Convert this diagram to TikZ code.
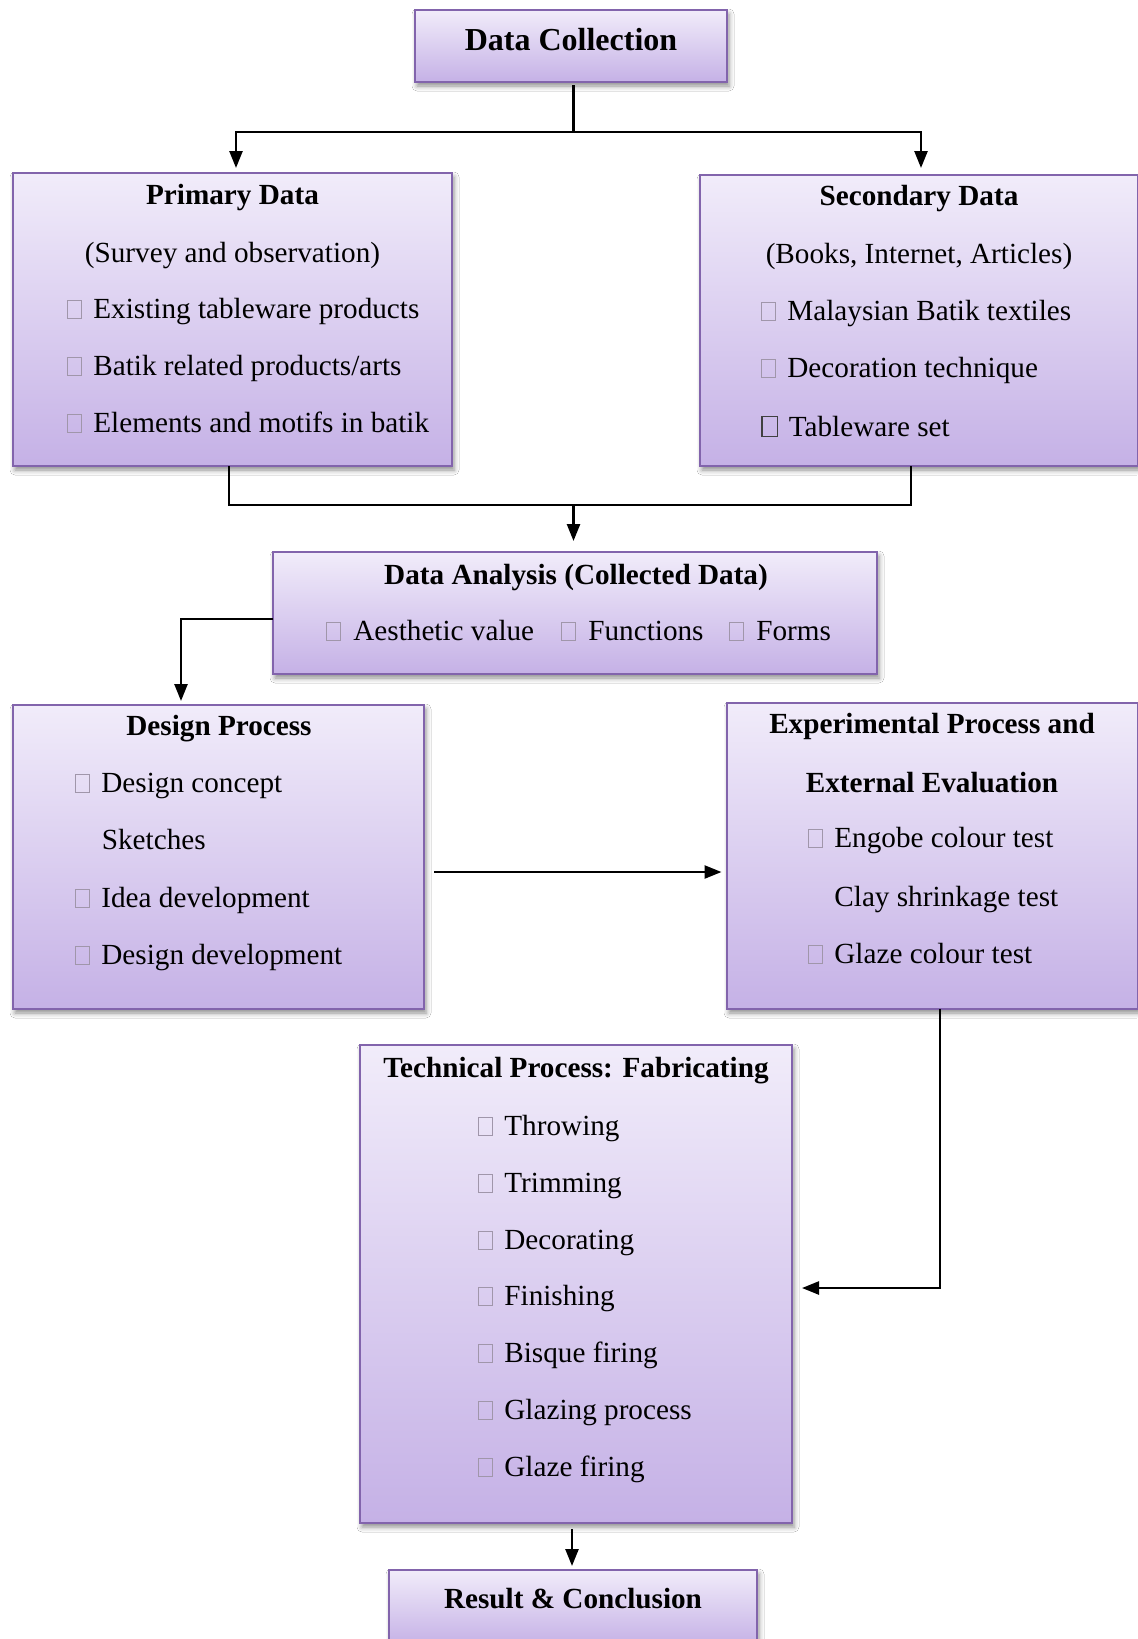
\documentclass[tikz,border=0pt]{standalone}
\usepackage{fontspec}
\setmainfont{Liberation Serif}
\usetikzlibrary{arrows.meta,shadows.blur}
\definecolor{boxtop}{RGB}{241,236,250}
\definecolor{boxbot}{RGB}{197,177,230}
\definecolor{boxline}{RGB}{130,100,172}
\definecolor{cbcol}{RGB}{160,150,170}
\newcommand\cbx{\textcolor{cbcol}{\setlength\fboxsep{0pt}\setlength\fboxrule{0.5pt}\fbox{\rule{0pt}{8.5pt}\hspace{6.5pt}}}}
\newcommand\cbd{\textcolor{black!75}{\setlength\fboxsep{0pt}\setlength\fboxrule{0.6pt}\fbox{\rule{0pt}{9.5pt}\hspace{7pt}}}}
\tikzset{
  box/.style={draw=boxline, line width=1pt, top color=boxtop, bottom color=boxbot,
    inner sep=0pt, outer sep=0pt,
    blur shadow={shadow xshift=1pt, shadow yshift=-2pt, shadow blur radius=2.5pt, shadow opacity=45}},
  ttl/.style={anchor=base, inner sep=0pt, font=\fontsize{14.6pt}{17pt}\selectfont\bfseries},
  sub/.style={anchor=base, inner sep=0pt, font=\fontsize{14.6pt}{17pt}\selectfont},
  item/.style={anchor=base west, inner sep=0pt, font=\fontsize{14.6pt}{17pt}\selectfont},
  line/.style={draw=black, line width=1.25pt},
  arr/.style={line, -{Triangle[length=8.5pt,width=6.5pt]}}
}
\begin{document}
\begin{tikzpicture}[x=0.5pt,y=-0.5pt]
\fill[white] (0,0) rectangle (1137,1639);
\useasboundingbox (0,0) rectangle (1137,1639);

% boxes
\node[box, minimum width=156pt, minimum height=36pt] (dc) at (571,46) {};
\node[box, minimum width=219.5pt, minimum height=146.5pt] (pd) at (232.5,319.5) {};
\node[box, minimum width=219pt, minimum height=145.5pt] (sd) at (919,320.5) {};
\node[box, minimum width=302pt, minimum height=61pt] (da) at (575,613) {};
\node[box, minimum width=205.5pt, minimum height=152pt] (dp) at (218.5,857) {};
\node[box, minimum width=205.5pt, minimum height=153pt] (ex) at (932.5,856) {};
\node[box, minimum width=216pt, minimum height=239pt] (tp) at (576,1284) {};
\node[box, minimum width=184pt, minimum height=37.5pt] (rc) at (573,1607.5) {};

% texts
\node[anchor=base, inner sep=0pt, font=\fontsize{16pt}{19pt}\selectfont\bfseries] (dct) at (571,50) {Data Collection};

\node[ttl] (pdt) at (232.5,204) {Primary Data};
\node[sub] (pds) at (232.5,262) {(Survey and observation)};
\node[item] (pd1) at (67,318) {\cbx\hspace{5.5pt}Existing tableware products};
\node[item] (pd2) at (67,375) {\cbx\hspace{5.5pt}Batik related products/arts};
\node[item] (pd3) at (67,432) {\cbx\hspace{5.5pt}Elements and motifs in batik};

\node[ttl] (sdt) at (919,205) {Secondary Data};
\node[sub] (sds) at (919,263) {(Books, Internet, Articles)};
\node[item] (sd1) at (761,320) {\cbx\hspace{5.5pt}Malaysian Batik textiles};
\node[item] (sd2) at (761,377) {\cbx\hspace{5.5pt}Decoration technique};
\node[item] (sd3) at (761,436) {\cbd\hspace{5.5pt}Tableware set};

\node[ttl] (dat) at (576,584) {Data Analysis (Collected Data)};
\node[item] (da1) at (326,640) {\cbx\hspace{6pt}Aesthetic value};
\node[item] (da2) at (561,640) {\cbx\hspace{6pt}Functions};
\node[item] (da3) at (729,640) {\cbx\hspace{6pt}Forms};

\node[ttl] (dpt) at (219,735) {Design Process};
\node[item] (dp1) at (75,792) {\cbx\hspace{5.5pt}Design concept};
\node[item] (dp2) at (101.5,849) {Sketches};
\node[item] (dp3) at (75,907) {\cbx\hspace{5.5pt}Idea development};
\node[item] (dp4) at (75,964) {\cbx\hspace{5.5pt}Design development};

\node[ttl] (ext1) at (932,733) {Experimental Process and};
\node[ttl] (ext2) at (932,792) {External Evaluation};
\node[item] (ex1) at (808,847) {\cbx\hspace{5.5pt}Engobe colour test};
\node[item] (ex2) at (834,906) {Clay shrinkage test};
\node[item] (ex3) at (808,963) {\cbx\hspace{5.5pt}Glaze colour test};

\node[ttl] (tpt) at (576,1077) {Technical Process: Fabricating};
\node[item] (tp1) at (478,1135) {\cbx\hspace{5.5pt}Throwing};
\node[item] (tp2) at (478,1192) {\cbx\hspace{5.5pt}Trimming};
\node[item] (tp3) at (478,1249) {\cbx\hspace{5.5pt}Decorating};
\node[item] (tp4) at (478,1305) {\cbx\hspace{5.5pt}Finishing};
\node[item] (tp5) at (478,1362) {\cbx\hspace{5.5pt}Bisque firing};
\node[item] (tp6) at (478,1419) {\cbx\hspace{5.5pt}Glazing process};
\node[item] (tp7) at (478,1476) {\cbx\hspace{5.5pt}Glaze firing};

\node[ttl] (rct) at (573,1608) {Result \& Conclusion};

% connectors
\coordinate (j1) at (573.5,132);
\coordinate (j2) at (573.5,505);
\draw[line] ([xshift=1.25pt,yshift=-1.5pt]dc.south) -- (j1);
\draw[arr, shorten >=2.5pt] (j1) -| ([xshift=1.75pt]pd.north);
\draw[arr, shorten >=3.5pt] (j1) -| ([xshift=1pt]sd.north);
\draw[line] ([xshift=-1.75pt]pd.south) |- (j2) -| ([xshift=-4pt]sd.south);
\draw[arr, shorten >=5.5pt] (j2) -- (j2 |- da.north);
\draw[arr, shorten >=2pt] ([yshift=-3pt]da.west) -| ([xshift=-18.75pt]dp.north);
\draw[arr, shorten <=5pt, shorten >=2.75pt] ([yshift=-7.5pt]dp.east) -- ([yshift=-8pt]ex.west);
\draw[arr, shorten >=5pt] ([xshift=3.75pt]ex.south) |- ([yshift=-2pt]tp.east);
\draw[arr, shorten <=3pt, shorten >=2pt] ([xshift=-2pt]tp.south) -- ([xshift=-0.5pt]rc.north);
\end{tikzpicture}
\end{document}
